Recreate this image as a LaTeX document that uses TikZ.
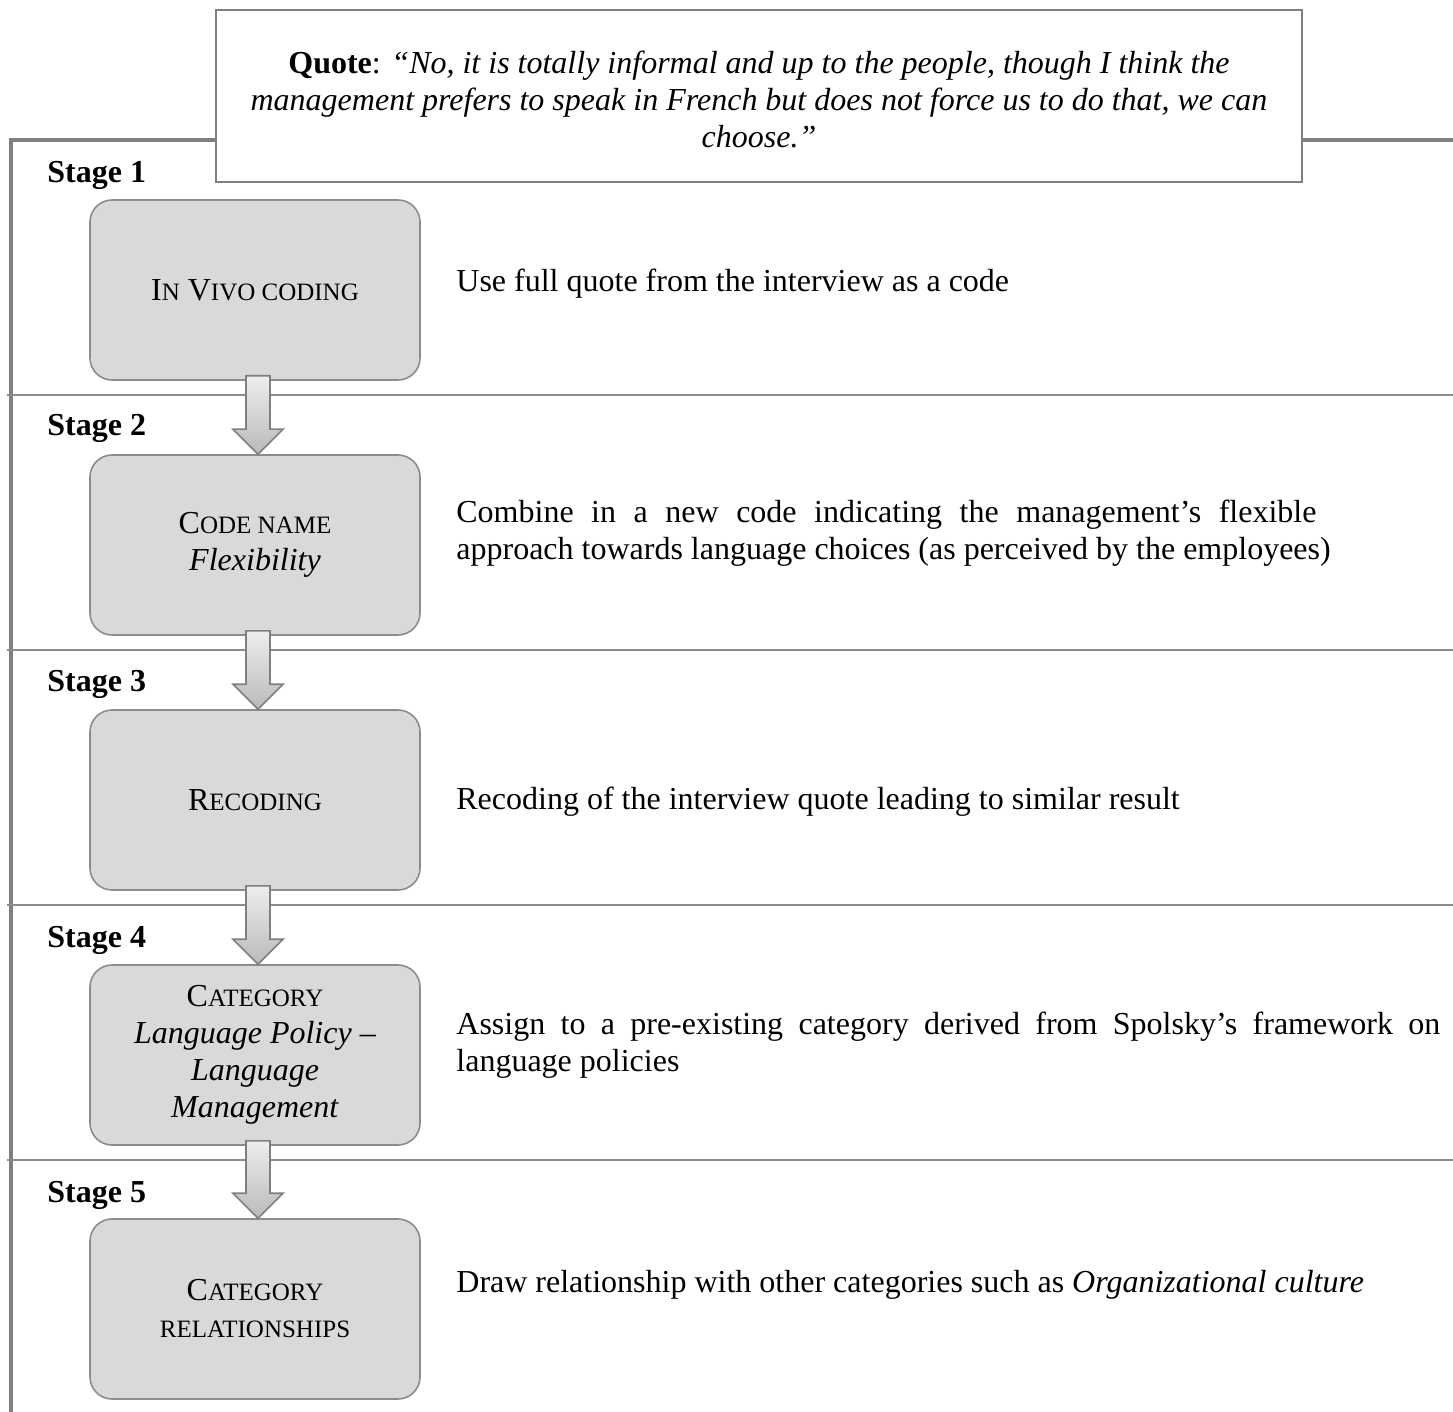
\documentclass[tikz,border=0pt]{standalone}
\usepackage{fontspec}
\setmainfont{Liberation Serif}
\usetikzlibrary{calc}
\definecolor{framegray}{HTML}{7F7F7F}
\definecolor{boxfill}{HTML}{D9D9D9}
\definecolor{boxline}{HTML}{8C8C8C}
\newcommand{\smc}[1]{{\fontsize{12.5}{18.5}\selectfont #1}}
\begin{document}
\begin{tikzpicture}[x=0.5pt,y=-0.5pt,
  every node/.style={font=\fontsize{16}{18.5}\selectfont},
  stagebox/.style={draw=boxline, line width=0.8pt, fill=boxfill, rounded corners=11pt,
    minimum width=165pt, minimum height=90pt, align=center, inner sep=2pt},
  stagelabel/.style={anchor=west, inner sep=0pt, font=\fontsize{16}{18.5}\selectfont\bfseries},
  desc/.style={anchor=west, inner sep=0pt, align=left},
  sepline/.style={draw=boxline, line width=0.9pt},
  flowarrow/.style={draw=framegray, line width=0.8pt, top color=black!7, bottom color=black!27, line join=miter},
  quotebox/.style={draw=framegray, line width=1.3pt, fill=white, minimum width=543pt,
    minimum height=86pt, align=center, inner sep=0pt},
]
\useasboundingbox (0,0) rectangle (1453,1412);

% outer frame
\draw[draw=framegray, line width=2pt] (1453,140) -- (11,140) -- (11,1412);
% stage separators
\draw[sepline] (7,395) -- (1453,395);
\draw[sepline] (7,650) -- (1453,650);
\draw[sepline] (7,905) -- (1453,905);
\draw[sepline] (7,1160) -- (1453,1160);

% quote
\node[quotebox] (quote) at (759,96) {};
\node[align=center, inner sep=0pt] (quotetext) at (759,99) {\textbf{Quote}: \textit{“No, it is totally informal and up to the people, though I think the}\\
\textit{management prefers to speak in French but does not force us to do that, we can}\\
\textit{choose.”}};

% stage labels
\node[stagelabel] (s1) at (47,175) {Stage 1};
\node[stagelabel] (s2) at (47,428) {Stage 2};
\node[stagelabel] (s3) at (47,684) {Stage 3};
\node[stagelabel] (s4) at (47,940) {Stage 4};
\node[stagelabel] (s5) at (47,1195) {Stage 5};

% boxes
\node[stagebox] (b1) at (255,290) {I\smc{N} V\smc{IVO CODING}};
\node[stagebox] (b2) at (255,545) {C\smc{ODE NAME}\\\textit{Flexibility}};
\node[stagebox] (b3) at (255,800) {R\smc{ECODING}};
\node[stagebox] (b4) at (255,1055) {C\smc{ATEGORY}\\\textit{Language Policy –}\\\textit{Language}\\\textit{Management}};
\node[stagebox] (b5) at (255,1309) {C\smc{ATEGORY}\\\smc{RELATIONSHIPS}};

% arrows
\foreach \a/\b in {b1/b2,b2/b3,b3/b4,b4/b5}{
  \path[flowarrow] ($(\a.south)+(-9,-5)$) -- ($(\b.north)+(-9,-25)$) -- ($(\b.north)+(-22,-25)$)
    -- ($(\b.north)+(3,0)$) -- ($(\b.north)+(28,-25)$) -- ($(\b.north)+(15,-25)$)
    -- ($(\a.south)+(15,-5)$) -- cycle;
}

% descriptions
\node[desc] (d1) at (456,284) {Use full quote from the interview as a code};
\node[desc] (d2) at (456,533) {\makebox[430pt][s]{Combine in a new code indicating the management’s flexible}\\approach towards language choices (as perceived by the employees)};
\node[desc] (d3) at (456,802) {Recoding of the interview quote leading to similar result};
\node[desc] (d4) at (456,1045) {\makebox[492pt][s]{Assign to a pre-existing category derived from Spolsky’s framework on}\\language policies};
\node[desc] (d5) at (456,1285) {Draw relationship with other categories such as \textit{Organizational culture}};
\end{tikzpicture}
\end{document}
